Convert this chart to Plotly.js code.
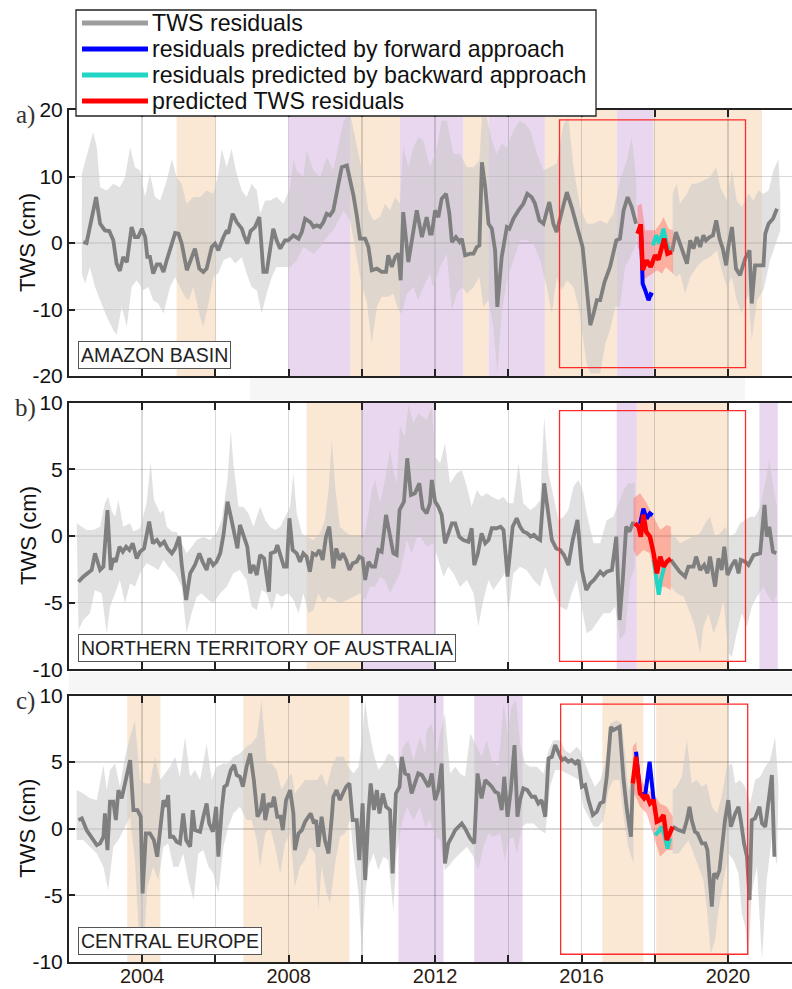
<!DOCTYPE html>
<html><head><meta charset="utf-8">
<script src="https://cdn.plot.ly/plotly-3.0.1.min.js"></script>
<style>html,body{margin:0;padding:0;background:#fff}</style>
</head><body><div id="chart" style="width:792px;height:989px"></div>
<script>
// ---------------- DATA ----------------
const xTickVals = [2004, 2006, 2008, 2010, 2012, 2014, 2016, 2018, 2020];
const xTickText = ['2004', '', '2008', '', '2012', '', '2016', '', '2020'];
const legendLabels = ['TWS residuals', 'residuals predicted by forward approach', 'residuals predicted by backward approach', 'predicted TWS residuals'];
const regionNames = ['AMAZON BASIN', 'NORTHERN TERRITORY OF AUSTRALIA', 'CENTRAL EUROPE'];
const panelLetters = ['a)', 'b)', 'c)'];

// ---- a) Amazon basin ----
const amazonLineT = [2002.39,2002.48,2002.74,2002.85,2002.98,2003.10,2003.21,2003.30,2003.39,2003.48,2003.58,2003.71,2003.80,2003.89,2003.99,2004.08,2004.14,2004.21,2004.30,2004.40,2004.49,2004.58,2004.67,2004.76,2004.90,2004.99,2005.08,2005.22,2005.35,2005.44,2005.56,2005.67,2005.76,2005.90,2005.99,2006.08,2006.22,2006.31,2006.35,2006.47,2006.58,2006.72,2006.78,2006.87,2006.96,2007.08,2007.20,2007.31,2007.40,2007.51,2007.58,2007.67,2007.77,2007.90,2007.99,2008.13,2008.27,2008.36,2008.45,2008.59,2008.68,2008.77,2008.86,2008.95,2009.04,2009.13,2009.22,2009.36,2009.45,2009.59,2009.66,2009.77,2009.86,2009.95,2010.09,2010.18,2010.27,2010.41,2010.54,2010.66,2010.72,2010.82,2010.91,2011.00,2011.06,2011.13,2011.27,2011.41,2011.50,2011.64,2011.77,2011.86,
2011.91,2012.00,2012.09,2012.18,2012.30,2012.39,2012.46,2012.57,2012.67,2012.73,2012.82,2012.96,2013.05,2013.14,2013.21,2013.28,2013.37,2013.46,2013.55,2013.64,2013.70,2013.82,2013.96,2014.03,2014.14,2014.28,2014.41,2014.52,2014.64,2014.73,2014.85,2014.96,2015.12,2015.23,2015.32,2015.46,2015.60,2015.73,2015.87,2016.03,2016.14,2016.24,2016.33,2016.42,2016.51,2016.63,2016.78,2016.95,2017.05,2017.15,2017.26,2017.37,2017.49,
2018.47,2018.58,2018.69,2018.79,2018.88,2018.97,2019.06,2019.15,2019.24,2019.33,2019.40,2019.50,2019.59,2019.68,2019.77,2019.86,2019.95,2020.01,2020.11,2020.22,2020.33,2020.47,2020.59,2020.65,2020.74,2020.88,2020.97,2021.02,2021.11,2021.23,2021.34];
const amazonLine = [0.15,0,6.9,2.9,1.9,1.8,0.4,-3.1,-4.2,-2.1,-2.9,2.4,0.9,0.9,2.15,0.9,-2.1,-2.1,-4.6,-3.2,-3.2,-4.35,-2.6,-0.85,1.5,1.4,-0.1,-4.1,-2.35,-0.85,-3.85,-4.35,-3.85,-0.6,-0.1,-1.1,0.9,1.9,1.4,4.4,3.15,2.15,1.15,-0.1,1.8,2.4,3.9,-4.35,-4.35,-0.6,2.15,0.4,-0.85,0.4,0.4,1.15,0.65,1.65,3.65,3.15,2.4,2.65,2.4,3.15,4.4,4.15,4.9,8.9,11.4,11.65,9.9,7.15,4.15,0.65,0.65,-0.6,-4.1,-3.85,-4.35,-4.35,-1.85,-3.6,-2.1,-1.6,-5.6,4.65,-2.85,2.4,4.9,0.9,3.9,1.4,
1.4,4.9,3.9,6.65,7.4,4.4,0.15,0.9,0.15,0.65,-1.85,-1.6,-1.6,-0.6,-0.35,12.15,8.4,2.9,2.15,-1.1,-9.6,-2.1,2.4,2.15,3.65,4.9,5.9,7.4,6.9,5.9,3.4,2.9,6.15,2.9,1.65,4.65,7.65,5.4,2.65,-0.6,-6.6,-12.35,-10.6,-8.6,-8.6,-5.85,-3.6,0.4,0.65,4.9,6.9,5.4,2.9,
-1.35,1.65,-0.1,-1.85,-3.1,0.4,-0.85,0.9,-0.6,1.15,0.4,0.9,1.15,3.4,0.65,-0.85,-3.35,-0.6,2.4,-3.85,-4.85,-2.35,-1.1,-9.1,-3.35,-3.35,-3.35,1.4,2.9,3.65,5.15];
const amazonUpT = [2002.35,2002.66,2002.76,2002.85,2003.03,2003.21,2003.39,2003.53,2003.67,2003.80,2003.94,2004.08,2004.21,2004.35,2004.49,2004.67,2004.81,2004.94,2005.08,2005.21,2005.40,2005.58,2005.76,2005.94,2006.08,2006.17,2006.31,2006.44,2006.58,2006.72,2006.85,2006.99,2007.13,2007.22,2007.36,2007.49,2007.67,2007.86,2008.04,2008.13,2008.22,2008.40,2008.49,2008.68,2008.86,2009.04,2009.22,2009.36,2009.50,2009.68,2009.86,2010.04,2010.18,2010.32,2010.50,2010.63,2010.77,2010.91,2011.04,2011.13,2011.27,2011.41,2011.54,2011.68,2011.86,
2012.05,2012.18,2012.32,2012.50,2012.68,2012.87,2013.05,2013.21,2013.28,2013.41,2013.55,2013.68,2013.82,2013.96,2014.14,2014.32,2014.46,2014.60,2014.78,2014.96,2015.14,2015.32,2015.51,2015.64,2015.78,2015.96,2016.14,2016.33,2016.51,2016.69,2016.87,2017.05,2017.24,2017.37,2017.49,
2018.49,2018.60,2018.69,2018.88,2019.01,2019.15,2019.33,2019.51,2019.68,2019.79,2019.97,2020.11,2020.24,2020.38,2020.56,2020.70,2020.83,2020.97,2021.11,2021.24,2021.38,2021.43];
const amazonUp = [10.4,16.65,14.4,8.4,7.9,8.9,8.4,9.9,14.4,11.4,10.9,6.9,10.4,6.9,6.4,9.4,12.65,9.9,8.9,5.9,6.9,6.9,7.9,7.4,10.4,14.15,11.4,14.15,10.4,7.9,6.9,8.9,7.9,4.4,6.4,6.4,6.9,5.9,8.4,12.4,10.9,9.9,13.9,10.9,9.9,12.9,10.9,14.9,18.4,19.4,14.9,9.9,4.9,3.4,3.9,5.9,4.9,6.9,5.9,14.4,11.4,14.4,15.9,15.4,11.4,
14.4,18.4,18.4,13.4,13.4,11.4,11.4,12.4,18.9,18.9,15.4,13.4,14.9,14.4,16.9,18.4,17.9,16.9,13.4,10.9,11.4,11.9,17.9,18.9,11.4,5.4,2.9,2.9,3.4,2.9,4.4,9.4,12.4,15.9,9.9,
7.4,8.9,5.9,7.4,8.9,8.9,9.4,9.9,11.4,8.4,6.4,10.9,6.4,5.4,7.4,6.4,7.9,7.4,7.9,10.9,12.65,6.9];
const amazonLoT = [2002.35,2002.44,2002.57,2002.71,2002.85,2003.03,2003.21,2003.30,2003.44,2003.58,2003.71,2003.85,2004.03,2004.17,2004.30,2004.44,2004.58,2004.76,2004.90,2005.03,2005.17,2005.26,2005.40,2005.58,2005.67,2005.81,2005.94,2006.08,2006.22,2006.40,2006.54,2006.72,2006.85,2006.99,2007.13,2007.26,2007.40,2007.54,2007.67,2007.86,2008.04,2008.22,2008.40,2008.54,2008.68,2008.86,2009.04,2009.22,2009.36,2009.50,2009.68,2009.86,2010.00,2010.13,2010.27,2010.41,2010.54,2010.72,2010.86,2011.00,2011.09,2011.23,2011.41,2011.54,2011.68,2011.86,
2011.95,2012.14,2012.32,2012.46,2012.59,2012.73,2012.87,2013.05,2013.21,2013.32,2013.46,2013.59,2013.70,2013.82,2013.96,2014.14,2014.32,2014.50,2014.69,2014.87,2015.05,2015.19,2015.32,2015.46,2015.60,2015.78,2015.92,2016.05,2016.14,2016.24,2016.51,2016.65,2016.78,2016.92,2017.05,2017.19,2017.33,2017.49,
2018.49,2018.60,2018.69,2018.83,2018.97,2019.15,2019.33,2019.51,2019.70,2019.83,2019.97,2020.11,2020.24,2020.38,2020.56,2020.65,2020.79,2020.97,2021.15,2021.34,2021.43];
const amazonLo = [-4.6,-6.1,-3.6,-6.6,-8.6,-11.1,-13.1,-13.85,-9.6,-12.6,-6.6,-5.6,-7.1,-6.6,-8.6,-9.1,-10.6,-6.6,-5.1,-6.6,-8.1,-8.6,-6.6,-11.1,-12.6,-9.1,-5.1,-4.6,-2.6,-2.1,-3.1,-2.1,-4.6,-6.6,-7.1,-10.6,-7.6,-5.1,-3.6,-3.6,-3.6,-2.6,-0.6,-1.1,-1.6,-0.6,0.9,1.9,3.4,4.9,3.4,-2.1,-6.6,-8.6,-15.1,-9.6,-8.1,-8.1,-7.6,-10.1,-10.6,-7.6,-6.6,-8.6,-6.6,-4.6,
-6.6,-3.6,-1.6,-10.1,-7.6,-6.6,-7.6,-6.6,-5.1,-9.6,-8.6,-12.6,-19.6,-10.6,-5.6,-2.6,0.4,0.4,-0.1,-2.6,-6.6,-10.6,-5.1,-7.1,-5.6,-6.6,-9.6,-14.6,-18.1,-19.6,-19.6,-15.1,-13.1,-9.6,-9.6,-3.6,-2.1,-0.1,
-4.6,-5.1,-4.6,-7.6,-5.1,-3.6,-2.6,-2.1,-1.1,-4.1,-6.6,-5.1,-8.6,-10.6,-7.6,-14.6,-8.6,-7.1,-2.6,0.4,1.9];
const amazonPredT = [2017.53,2017.62,2017.67,2017.78,2017.89,2018.01,2018.10,2018.19,2018.26,2018.35,2018.47];
const amazonPred = [1.4,2.8,-4.1,-2.6,-3.6,-1.85,-2.5,-0.85,0.65,-1.6,-1.35];
const amazonFwdT = [2017.62,2017.67,2017.74,2017.83,2017.89,2017.95];
const amazonFwd = [2.8,-6.1,-7.1,-8.6,-7.7,-7.85];
const amazonBwdT = [2017.95,2018.04,2018.13,2018.24,2018.33,2018.40];
const amazonBwd = [-0.35,1.15,-0.1,2.15,-0.1,-1.1];
const amazonPredUpT = [2017.53,2017.64,2017.74,2017.87,2018.01,2018.15,2018.24,2018.38,2018.50];
const amazonPredUp = [5.65,5.9,1.9,1.9,1.9,2.9,3.9,2.15,1.9];
const amazonPredLoT = [2017.53,2017.64,2017.67,2017.80,2017.94,2018.06,2018.20,2018.30,2018.40,2018.50];
const amazonPredLo = [-0.6,-1.6,-5.6,-5.1,-4.6,-4.1,-4.6,-3.6,-4.1,-4.6];
const amazonElNino = [[2004.94,2006.0],[2009.68,2011.04],[2012.77,2013.46],[2015.0,2016.97],[2017.96,2020.93]];
const amazonLaNina = [[2008.0,2009.68],[2011.04,2012.77],[2013.46,2015.0],[2016.97,2017.96]];
const amazonWindow = [2015.40, 2020.48, -18.75, 18.5];

// ---- b) Northern Territory of Australia ----
const ntLineT = [2002.26,2002.39,2002.62,2002.71,2002.85,2002.94,2003.05,2003.14,2003.21,2003.28,2003.38,2003.47,2003.56,2003.65,2003.74,2003.85,2003.94,2004.05,2004.19,2004.29,2004.40,2004.49,2004.60,2004.69,2004.81,2004.90,2005.01,2005.08,2005.20,2005.31,2005.44,2005.56,2005.65,2005.76,2005.83,2005.94,2006.03,2006.13,2006.22,2006.33,2006.44,2006.54,2006.60,2006.67,2006.78,2006.87,2006.95,2007.04,2007.13,2007.22,2007.33,2007.46,2007.51,2007.63,2007.69,2007.78,2007.87,2007.95,2008.02,2008.11,2008.22,2008.31,2008.40,2008.49,2008.58,2008.66,2008.75,2008.84,2008.93,2009.02,2009.11,2009.22,2009.30,2009.39,2009.48,2009.57,2009.66,2009.75,2009.86,2009.93,2010.02,2010.09,2010.18,2010.27,2010.36,2010.45,2010.54,2010.66,2010.77,2010.86,2010.95,2011.03,2011.15,2011.24,2011.34,2011.45,2011.57,2011.66,2011.77,2011.86,
2011.91,2012.00,2012.09,2012.18,2012.27,2012.36,2012.46,2012.55,2012.66,2012.77,2012.91,2013.00,2013.07,2013.17,2013.27,2013.37,2013.46,2013.55,2013.68,2013.79,2013.87,2013.98,2014.12,2014.23,2014.32,2014.41,2014.52,2014.61,2014.70,2014.80,2014.87,2014.98,2015.10,2015.19,2015.31,2015.42,2015.52,2015.64,2015.76,2015.89,2016.01,2016.13,2016.24,2016.34,2016.51,2016.60,2016.69,2016.83,2016.95,2017.04,2017.13,2017.22,2017.31,2017.40,2017.46,
2018.44,2018.56,2018.68,2018.83,2018.92,2019.06,2019.13,2019.24,2019.35,2019.44,2019.51,2019.65,2019.74,2019.83,2019.90,2019.99,2020.11,2020.20,2020.29,2020.35,2020.47,2020.56,2020.70,2020.88,2021.00,2021.06,2021.13,2021.23,2021.32];
const ntLine = [-3.43,-3.05,-2.55,-1.3,-2.55,-2.3,1.95,-2.55,-1.68,-1.93,-0.8,-1.18,-0.8,-1.05,-0.55,-1.68,-1.18,-0.93,1.08,-0.55,-0.3,-0.68,-0.43,-0.93,-1.3,-0.93,-0.05,-2.18,-4.8,-2.8,-2.18,-1.3,-1.93,-2.55,-1.68,-2.18,-1.93,-1.3,0.08,2.58,1.2,-0.3,-0.93,0.83,-0.05,-0.8,-2.8,-2.18,-2.93,-1.43,-1.68,-4.18,-1.3,-1.18,-0.68,-1.55,-2.3,-2.3,1.33,-1.05,-1.3,-1.93,-1.3,-1.55,-2.68,-1.3,-1.43,-1.05,-1.8,-0.05,0.7,-2.43,-0.93,-1.8,-1.3,-1.8,-2.55,-2.05,-1.93,-1.55,-1.68,-3.3,-1.93,-2.3,-2.3,-1.05,-1.18,1.58,-0.05,-1.3,-1.43,1.95,2.58,5.83,3.08,3.2,3.95,2.08,1.7,2.45,
4.2,2.58,2.2,1.58,-0.55,0.2,0.95,0.95,-0.05,-0.3,-0.43,0.58,-2.18,-1.3,0.2,-0.55,-0.3,0.58,0.58,0.7,0.45,-3.05,0.7,1.33,0.7,0.33,0.2,-0.05,0.08,-0.18,-0.3,3.95,1.2,-0.3,-0.93,-1.05,-1.43,-2.18,-0.3,1.2,-2.55,-4.05,-3.55,-3.3,-2.68,-2.93,-2.68,-2.55,-0.05,-6.3,-3.18,0.7,0.33,0.95,0.95,
-1.8,-2.3,-2.68,-3.05,-2.3,-2.3,-1.55,-2.55,-2.18,-2.8,-1.55,-3.8,-1.68,-2.55,-0.8,-2.93,-2.18,-1.8,-2.8,-1.8,-1.93,-2.18,-1.43,-1.3,2.33,-0.05,0.7,-1.18,-1.3];
const ntUpT = [2002.21,2002.48,2002.66,2002.85,2002.98,2003.07,2003.17,2003.26,2003.35,2003.48,2003.67,2003.76,2003.94,2004.12,2004.23,2004.32,2004.49,2004.58,2004.67,2004.81,2004.94,2005.08,2005.21,2005.35,2005.49,2005.67,2005.85,2006.03,2006.17,2006.33,2006.42,2006.49,2006.63,2006.76,2006.90,2007.04,2007.22,2007.36,2007.49,2007.63,2007.77,2007.95,2008.04,2008.13,2008.22,2008.36,2008.49,2008.68,2008.86,2008.99,2009.09,2009.18,2009.27,2009.40,2009.59,2009.77,2009.95,2010.04,2010.18,2010.27,2010.36,2010.50,2010.63,2010.77,2010.86,2010.95,2011.04,2011.18,2011.27,2011.41,2011.54,
2011.77,2011.91,2012.00,2012.14,2012.27,2012.41,2012.59,2012.73,2012.87,2013.00,2013.14,2013.27,2013.41,2013.55,2013.73,2013.87,2014.00,2014.14,2014.28,2014.41,2014.60,2014.73,2014.87,2014.98,2015.10,2015.23,2015.37,2015.51,2015.64,2015.78,2015.92,2016.05,2016.14,2016.33,2016.51,2016.69,2016.87,2017.01,2017.15,2017.28,2017.46,
2018.44,2018.56,2018.69,2018.88,2019.06,2019.24,2019.38,2019.51,2019.65,2019.79,2019.92,2020.06,2020.20,2020.33,2020.47,2020.61,2020.74,2020.88,2021.02,2021.13,2021.24,2021.34];
const ntUp = [0.95,0.45,0.45,0.7,2.45,2.95,1.83,1.45,2.7,0.7,0.95,0.33,0.58,2.45,5.58,2.7,1.7,1.95,0.7,0.33,0.3,-0.5,-1.3,-0.8,-0.3,-0.05,-0.3,0.2,1.2,4.2,7.95,5.45,2.2,2.2,1.7,0.7,2.2,1.2,0.7,0.45,0.7,1.7,2.2,4.7,1.7,0.2,-0.05,-0.3,0.2,1.2,3.45,7.2,3.7,0.7,0.2,-0.05,-0.05,-0.3,1.7,3.45,4.2,2.45,4.2,6.45,4.95,3.95,8.2,7.45,9.83,8.45,9.2,
8.7,9.7,5.95,5.45,6.95,3.95,4.7,4.95,3.7,2.2,3.45,2.95,3.2,2.95,2.7,2.95,2.45,2.45,5.45,2.45,1.95,2.2,2.7,8.95,4.7,2.95,1.2,1.45,1.95,3.7,4.2,3.2,1.7,-0.55,-0.55,1.2,1.45,2.45,3.45,3.95,3.95,
0.2,-0.05,-0.55,-0.3,-0.05,0.2,0.95,1.45,-0.05,0.2,0.7,-0.05,0.2,0.95,1.2,1.45,1.45,2.2,3.95,5.7,3.7,2.2];
const ntLoT = [2002.26,2002.39,2002.57,2002.71,2002.89,2003.03,2003.12,2003.26,2003.39,2003.53,2003.67,2003.80,2003.94,2004.12,2004.30,2004.44,2004.58,2004.71,2004.90,2005.08,2005.21,2005.35,2005.49,2005.62,2005.81,2005.94,2006.13,2006.31,2006.49,2006.67,2006.85,2006.99,2007.13,2007.26,2007.40,2007.54,2007.67,2007.81,2007.99,2008.13,2008.27,2008.40,2008.54,2008.68,2008.81,2008.95,2009.09,2009.27,2009.40,2009.59,2009.77,2009.95,2010.09,2010.22,2010.36,2010.50,2010.63,2010.77,2010.91,2011.04,2011.23,2011.36,2011.54,
2011.77,2011.95,2012.09,2012.23,2012.36,2012.50,2012.68,2012.87,2013.05,2013.18,2013.32,2013.46,2013.59,2013.78,2013.91,2014.00,2014.14,2014.32,2014.50,2014.69,2014.87,2015.01,2015.14,2015.28,2015.42,2015.60,2015.73,2015.87,2016.01,2016.14,2016.28,2016.42,2016.60,2016.78,2016.92,2017.05,2017.19,2017.33,2017.46,
2018.44,2018.60,2018.79,2018.97,2019.10,2019.24,2019.33,2019.47,2019.61,2019.74,2019.88,2020.01,2020.11,2020.24,2020.38,2020.52,2020.65,2020.79,2020.97,2021.11,2021.24,2021.34];
const ntLo = [-7.05,-6.3,-5.8,-4.05,-4.3,-7.3,-5.3,-4.3,-3.3,-5.05,-3.55,-3.8,-2.8,-2.05,-2.3,-2.55,-1.8,-2.3,-2.8,-3.8,-7.3,-5.8,-4.55,-4.3,-4.8,-5.05,-4.3,-3.8,-2.8,-2.55,-3.3,-5.3,-5.55,-4.05,-4.3,-5.55,-4.3,-4.55,-4.3,-4.8,-5.8,-4.3,-5.8,-5.55,-4.3,-5.05,-4.55,-4.8,-5.05,-4.8,-4.55,-4.3,-4.8,-3.8,-3.8,-3.05,-3.3,-4.3,-3.55,-2.8,-0.3,-1.3,0.2,
-0.8,-0.55,-1.8,-3.05,-2.3,-2.8,-3.8,-3.3,-4.3,-6.8,-4.8,-3.3,-4.05,-3.3,-2.8,-5.8,-2.8,-2.3,-2.55,-3.3,-3.8,-2.3,-3.3,-4.55,-5.3,-5.55,-4.3,-3.3,-5.3,-7.3,-7.05,-6.55,-5.8,-5.8,-5.3,-7.8,-7.3,-3.3,-2.3,
-3.8,-4.3,-4.55,-5.8,-6.8,-8.8,-6.8,-5.8,-7.3,-6.3,-4.8,-8.8,-9.05,-7.3,-5.8,-6.8,-5.3,-4.55,-3.8,-4.55,-5.05,-4.3];
const ntPredT = [2017.46,2017.56,2017.62,2017.69,2017.77,2017.87,2017.97,2018.06,2018.15,2018.24,2018.33,2018.44];
const ntPred = [0.95,0.7,-0.05,1.6,0.3,-0.05,-1.3,-2.8,-1.55,-2.3,-1.93,-1.7];
const ntFwdT = [2017.60,2017.69,2017.78,2017.87,2017.94];
const ntFwd = [0.9,2.05,1.3,1.7,1.55];
const ntBwdT = [2017.97,2018.06,2018.11,2018.17,2018.26,2018.33];
const ntBwd = [-1.8,-3.55,-4.4,-3.3,-2.3,-1.93];
const ntPredUpT = [2017.42,2017.60,2017.78,2017.97,2018.15,2018.33,2018.44];
const ntPredUp = [2.83,3.2,2.45,1.45,0.45,0.83,0.7];
const ntPredLoT = [2017.42,2017.51,2017.69,2017.87,2018.01,2018.15,2018.28,2018.44];
const ntPredLo = [-1.05,-1.55,-1.05,-1.3,-3.3,-3.8,-3.8,-4.05];
const ntElNino = [[2008.49,2010.0],[2017.51,2020.01]];
const ntLaNina = [[2010.0,2012.0],[2016.96,2017.51],[2020.86,2021.36]];
const ntWindow = [2015.40, 2020.48, -9.4, 9.4];

// ---- c) Central Europe ----
const ceLineT = [2002.26,2002.35,2002.48,2002.66,2002.76,2002.85,2002.94,2002.98,2003.05,2003.12,2003.21,2003.28,2003.35,2003.44,2003.53,2003.67,2003.76,2003.87,2003.96,2004.01,2004.10,2004.21,2004.32,2004.41,2004.49,2004.58,2004.65,2004.71,2004.76,2004.85,2004.94,2005.03,2005.12,2005.20,2005.31,2005.38,2005.44,2005.58,2005.67,2005.76,2005.83,2005.93,2006.02,2006.08,2006.17,2006.24,2006.31,2006.42,2006.51,2006.58,2006.67,2006.75,2006.85,2006.95,2007.05,2007.15,2007.24,2007.31,2007.36,2007.45,2007.54,2007.60,2007.69,2007.78,2007.84,2007.93,2008.04,2008.13,2008.17,2008.27,2008.36,2008.45,2008.54,2008.60,2008.69,2008.75,2008.81,2008.90,2008.99,2009.09,2009.18,2009.22,2009.31,2009.40,2009.48,2009.57,2009.66,2009.75,2009.86,2009.93,2010.02,2010.09,2010.18,2010.24,2010.33,2010.41,2010.48,2010.57,2010.66,2010.77,2010.84,2010.93,2011.03,2011.09,2011.18,2011.27,2011.36,2011.45,2011.54,2011.64,2011.73,2011.82,
2011.91,2012.00,2012.09,2012.18,2012.27,2012.36,2012.46,2012.55,2012.64,2012.73,2012.82,2012.96,2013.07,2013.16,2013.27,2013.37,2013.46,2013.55,2013.64,2013.73,2013.82,2013.89,2013.98,2014.07,2014.17,2014.25,2014.32,2014.41,2014.52,2014.64,2014.73,2014.82,2014.91,2015.01,2015.10,2015.19,2015.28,2015.37,2015.46,2015.55,2015.64,2015.73,2015.83,2015.92,2016.01,2016.10,2016.19,2016.31,2016.42,2016.51,2016.60,2016.69,2016.80,2016.87,2016.96,2017.04,2017.15,2017.24,2017.35,2017.40,
2018.49,2018.65,2018.79,2018.88,2018.95,2019.01,2019.10,2019.17,2019.29,2019.38,2019.44,2019.51,2019.56,2019.62,2019.70,2019.77,2019.83,2019.92,2020.01,2020.08,2020.20,2020.29,2020.35,2020.44,2020.52,2020.59,2020.65,2020.74,2020.86,2020.93,2021.02,2021.11,2021.20,2021.27];
const ceLine = [0.65,0.78,-0.1,-0.85,-1.23,-1.1,-0.6,1.15,-1.6,2.03,2.03,0.65,2.9,2.28,3.4,5.15,1.4,1.4,0.9,-4.85,-0.35,-0.35,-0.85,-2.1,-0.1,2.15,1.65,2.53,-0.6,-0.6,-0.98,-1.1,1.15,-0.85,-1.35,1.4,-0.1,-0.23,0.9,1.9,0.4,-0.23,1.65,-2.1,1.4,3.15,3.28,4.4,4.78,4.03,3.9,3.15,4.65,5.65,3.65,0.9,1.4,2.65,0.65,1.9,1.65,2.4,0.9,0.9,-0.1,2.15,2.9,1.15,-1.6,-0.35,-0.1,0.53,0.9,1.15,0.4,0.65,-1.35,0.9,-0.85,-1.85,0.9,2.4,2.9,2.15,2.65,3.15,3.4,0.65,0.65,-2.35,1.9,-3.85,1.15,3.4,1.4,2.9,1.15,2.65,1.65,1.4,-3.35,2.65,3.15,5.4,4.15,4.03,2.65,3.4,4.15,4.03,3.53,3.15,
4.15,2.15,2.9,4.9,-2.6,-1.1,-0.6,-0.1,0.15,0.4,0.03,-0.73,-1.1,4.15,2.28,3.65,3.4,3.15,2.78,2.65,1.4,3.9,0.9,2.9,6.28,0.9,2.15,3.03,2.9,2.4,2.4,1.9,2.15,0.9,5.28,5.4,6.28,5.65,5.15,5.28,5.03,5.15,4.9,5.15,3.15,3.28,2.15,1.03,1.28,1.9,2.03,3.9,7.65,7.4,7.53,7.65,3.65,1.4,-0.6,3.4,
0.15,-0.1,-0.23,0.65,1.65,0.65,-0.23,-0.35,-1.1,-1.1,-1.6,-3.85,-5.85,-3.35,-3.6,-3.1,-1.35,0.65,2.15,0.15,1.15,1.65,0.65,-1.1,-2.1,-5.35,0.65,0.78,1.65,0.4,0.15,1.9,4.03,-2.1];
const ceUpT = [2002.21,2002.39,2002.57,2002.76,2002.94,2003.03,2003.12,2003.26,2003.39,2003.53,2003.67,2003.80,2003.94,2004.08,2004.21,2004.35,2004.49,2004.62,2004.76,2004.90,2005.03,2005.17,2005.31,2005.44,2005.58,2005.76,2005.90,2006.03,2006.22,2006.35,2006.49,2006.67,2006.85,2006.99,2007.13,2007.26,2007.40,2007.54,2007.67,2007.81,2007.95,2008.08,2008.17,2008.31,2008.45,2008.63,2008.77,2008.90,2009.04,2009.18,2009.31,2009.50,2009.63,2009.77,2009.91,2010.00,2010.09,2010.18,2010.32,2010.45,2010.59,2010.72,2010.86,2011.00,2011.13,2011.27,2011.41,2011.59,2011.73,
2011.77,2011.91,2012.05,2012.14,2012.27,2012.41,2012.55,2012.68,2012.82,2012.96,2013.14,2013.27,2013.41,2013.55,2013.73,2013.87,2013.98,2014.09,2014.21,2014.32,2014.46,2014.60,2014.78,2014.96,2015.10,2015.23,2015.42,2015.55,2015.69,2015.87,2015.96,2016.10,2016.24,2016.37,2016.51,2016.65,2016.78,2016.96,2017.10,2017.19,2017.28,2017.37,2017.42,
2018.49,2018.60,2018.74,2018.88,2019.01,2019.15,2019.29,2019.42,2019.56,2019.70,2019.83,2019.97,2020.11,2020.20,2020.33,2020.47,2020.61,2020.74,2020.88,2021.02,2021.15,2021.29,2021.38];
const ceUp = [2.9,2.65,2.28,2.15,4.78,2.9,4.4,4.9,3.15,5.4,6.9,8.15,3.65,3.4,3.4,5.4,3.65,4.15,4.65,5.4,3.9,6.9,3.9,4.4,3.65,6.4,3.65,4.65,4.9,4.9,5.4,5.65,6.15,6.4,6.9,9.65,4.9,4.9,4.4,2.9,3.65,4.15,2.65,3.15,3.65,3.65,3.65,4.15,3.15,4.65,5.4,5.4,4.65,4.15,4.65,6.65,9.65,7.65,5.65,4.4,4.9,5.65,5.4,4.4,6.15,6.65,5.15,6.9,5.65,
7.4,7.9,5.65,7.15,8.65,4.15,4.65,4.15,3.9,7.15,6.15,5.4,6.65,5.15,4.65,9.4,7.15,9.15,9.65,6.4,4.9,4.65,4.65,4.15,5.9,6.65,6.65,5.9,5.65,6.15,5.9,4.9,3.9,3.15,3.65,4.9,7.9,8.15,7.9,5.65,2.9,3.65,4.4,
2.9,3.15,3.9,6.65,3.4,3.65,3.15,3.4,1.65,1.15,2.4,4.65,4.9,3.4,3.65,3.15,1.9,3.65,3.9,4.65,5.15,6.9,3.15];
const ceLoT = [2002.21,2002.39,2002.57,2002.76,2002.94,2003.07,2003.21,2003.35,2003.48,2003.67,2003.80,2003.94,2004.03,2004.14,2004.30,2004.44,2004.58,2004.71,2004.85,2004.99,2005.12,2005.26,2005.40,2005.53,2005.67,2005.81,2005.94,2006.08,2006.22,2006.35,2006.49,2006.67,2006.85,2006.99,2007.13,2007.22,2007.36,2007.49,2007.63,2007.77,2007.90,2008.04,2008.17,2008.31,2008.45,2008.58,2008.72,2008.81,2008.90,2009.04,2009.13,2009.27,2009.40,2009.54,2009.68,2009.77,2009.91,2010.00,2010.09,2010.18,2010.32,2010.45,2010.59,2010.72,2010.86,2010.95,2011.09,2011.23,2011.41,2011.59,2011.73,
2011.86,2012.00,2012.14,2012.27,2012.36,2012.50,2012.68,2012.87,2013.05,2013.18,2013.32,2013.46,2013.59,2013.78,2013.91,2014.00,2014.14,2014.23,2014.37,2014.50,2014.69,2014.87,2015.01,2015.14,2015.28,2015.42,2015.60,2015.78,2015.92,2016.05,2016.19,2016.33,2016.46,2016.60,2016.74,2016.87,2017.04,2017.16,2017.28,2017.42,
2018.49,2018.65,2018.79,2018.92,2019.06,2019.20,2019.33,2019.44,2019.53,2019.65,2019.74,2019.88,2020.01,2020.15,2020.29,2020.38,2020.47,2020.56,2020.65,2020.79,2020.93,2021.06,2021.20,2021.34];
const ceLo = [-0.85,-0.85,-1.35,-1.85,-2.85,-4.6,-1.35,-0.85,-0.1,0.9,-2.35,-9.35,-9.35,-4.35,-2.85,-3.85,-1.35,-1.1,-2.85,-2.85,-1.85,-3.85,-5.35,-1.85,-1.6,-2.85,-3.35,-4.85,-1.35,0.15,1.15,1.65,0.65,0.65,-0.85,-2.85,-0.35,0.15,-1.35,-3.35,-1.1,-0.35,-4.35,-2.85,-2.35,-1.35,-1.85,-6.1,-2.85,-4.85,-5.6,-2.6,-0.6,-0.35,0.65,-1.85,-4.85,-9.35,-5.1,-2.85,-1.85,-3.1,-2.1,-2.35,-6.1,-1.85,0.4,1.65,0.65,1.65,0.15,
0.65,-0.6,-0.85,-3.1,-2.85,-2.35,-1.85,-1.35,-2.1,-3.1,-1.35,-0.35,-0.6,-0.35,-2.35,-0.85,-0.6,-1.85,0.15,0.4,0.4,-0.1,-0.35,3.15,4.4,4.4,4.15,3.9,3.65,1.65,0.9,0.15,0.15,0.65,2.9,3.65,3.65,0.65,-1.35,-2.6,
-1.85,-1.85,-1.35,-0.85,-1.85,-2.85,-3.85,-6.35,-9.35,-8.35,-6.1,-3.85,-1.85,-2.35,-3.35,-6.35,-7.35,-9.85,-4.85,-2.85,-9.85,-3.85,-0.6,-2.8];
const cePredT = [2017.40,2017.49,2017.60,2017.71,2017.78,2017.87,2017.97,2018.06,2018.15,2018.24,2018.33,2018.42,2018.49];
const cePred = [3.4,5.4,2.65,2.28,2.53,1.9,2.15,0.53,0.65,1.03,-0.85,-0.23,0.15];
const ceFwdT = [2017.49,2017.60,2017.74,2017.86,2017.97];
const ceFwd = [5.78,2.65,2.53,5.03,2.15];
const ceBwdT = [2018.01,2018.10,2018.19,2018.28,2018.35,2018.42];
const ceBwd = [-0.48,-0.23,0.15,-0.6,-1.48,-0.73];
const cePredUpT = [2017.40,2017.49,2017.60,2017.78,2017.97,2018.15,2018.33,2018.49];
const cePredUp = [6.15,6.5,3.9,2.9,2.65,1.9,1.65,0.9];
const cePredLoT = [2017.40,2017.60,2017.78,2017.97,2018.15,2018.33,2018.49];
const cePredLo = [2.9,1.65,1.15,-0.6,-2.1,-1.6,-1.6];
const ceElNino = [[2003.59,2004.50],[2006.76,2009.66],[2016.57,2017.69],[2018.04,2020.01]];
const ceLaNina = [[2011.0,2012.23],[2013.07,2014.39]];
const ceWindow = [2015.43, 2020.54, -9.42, 9.35];

// ---------------- BUILD ----------------
const W = 792, H = 989;
const px = x => x / W, py = y => 1 - y / H;
const FONT = 'Liberation Sans, Arial, sans-serif';
const C = {gray:'#7f7f7f', legendGray:'#9d9d9d', blue:'#0000ff', cyan:'#22d6c6', red:'#ff0000',
  band:'rgba(200,200,200,0.55)', pink:'rgba(255,105,95,0.45)', orange:'#fae7d4', purple:'#e9d6ef', grid:'rgba(0,0,0,0.15)', axis:'#222'};

function splitSegs(t, v) {
  const segs = []; let cur = {t: [], v: []};
  for (let i = 0; i < t.length; i++) {
    if (i > 0 && t[i] - t[i-1] > 0.5) { segs.push(cur); cur = {t: [], v: []}; }
    cur.t.push(t[i]); cur.v.push(v[i]);
  }
  segs.push(cur); return segs;
}
function withGaps(t, v) {
  const x = [], y = [];
  for (let i = 0; i < t.length; i++) {
    if (i > 0 && t[i] - t[i-1] > 0.5) { x.push(null); y.push(null); }
    x.push(t[i]); y.push(v[i]);
  }
  return {x, y};
}
function poly(upT, up, loT, lo, xa, ya, color) {
  const su = splitSegs(upT, up), sl = splitSegs(loT, lo), out = [];
  for (let k = 0; k < Math.min(su.length, sl.length); k++) {
    out.push({type:'scatter', mode:'lines', x: su[k].t.concat(sl[k].t.slice().reverse()),
      y: su[k].v.concat(sl[k].v.slice().reverse()), fill:'toself', fillcolor: color,
      line:{width:0, color:'rgba(0,0,0,0)'}, xaxis: xa, yaxis: ya, hoverinfo:'skip', showlegend:false});
  }
  return out;
}
function line(t, v, xa, ya, color, width) {
  const g = withGaps(t, v);
  return {type:'scatter', mode:'lines', x: g.x, y: g.y, connectgaps:false, line:{color: color, width: width},
    xaxis: xa, yaxis: ya, hoverinfo:'skip', showlegend:false};
}

const panels = [
  {xa:'x', ya:'y', lineT:amazonLineT, line:amazonLine, upT:amazonUpT, up:amazonUp, loT:amazonLoT, lo:amazonLo,
   predT:amazonPredT, pred:amazonPred, fwdT:amazonFwdT, fwd:amazonFwd, bwdT:amazonBwdT, bwd:amazonBwd,
   pUpT:amazonPredUpT, pUp:amazonPredUp, pLoT:amazonPredLoT, pLo:amazonPredLo, el:amazonElNino, la:amazonLaNina, win:amazonWindow,
   range:[-20,20], ticks:[-20,-10,0,10,20], top:110, bottom:376},
  {xa:'x2', ya:'y2', lineT:ntLineT, line:ntLine, upT:ntUpT, up:ntUp, loT:ntLoT, lo:ntLo,
   predT:ntPredT, pred:ntPred, fwdT:ntFwdT, fwd:ntFwd, bwdT:ntBwdT, bwd:ntBwd,
   pUpT:ntPredUpT, pUp:ntPredUp, pLoT:ntPredLoT, pLo:ntPredLo, el:ntElNino, la:ntLaNina, win:ntWindow,
   range:[-10,10], ticks:[-10,-5,0,5,10], top:402.7, bottom:669.3},
  {xa:'x3', ya:'y3', lineT:ceLineT, line:ceLine, upT:ceUpT, up:ceUp, loT:ceLoT, lo:ceLo,
   predT:cePredT, pred:cePred, fwdT:ceFwdT, fwd:ceFwd, bwdT:ceBwdT, bwd:ceBwd,
   pUpT:cePredUpT, pUp:cePredUp, pLoT:cePredLoT, pLo:cePredLo, el:ceElNino, la:ceLaNina, win:ceWindow,
   range:[-10,10], ticks:[-10,-5,0,5,10], top:695.5, bottom:962}
];

const traces = [], shapes = [], annotations = [];
const layout = {width: W, height: H, margin:{l:0, r:0, t:0, b:0, pad:0}, showlegend:false,
  paper_bgcolor:'#ffffff', plot_bgcolor:'#ffffff', font:{family: FONT, color:'#111'}};

// faint separator strips between panels
shapes.push({type:'rect', xref:'paper', yref:'paper', x0:px(250), x1:px(745), y0:py(400), y1:py(378), fillcolor:'#f6f6f6', line:{width:0}, layer:'below'});
shapes.push({type:'rect', xref:'paper', yref:'paper', x0:px(69), x1:1, y0:py(693), y1:py(672), fillcolor:'#f6f6f6', line:{width:0}, layer:'below'});

panels.forEach((p, i) => {
  const sfx = i === 0 ? '' : String(i + 1);
  layout['xaxis' + sfx] = {domain:[px(69), 1], range:[2002, 2021.75], anchor: p.ya,
    tickmode:'array', tickvals: xTickVals, ticktext: xTickText, showticklabels: i === 2,
    tickfont:{family: FONT, size: 20, color:'#2b1b12'}, ticklabelstandoff: -5,
    ticks:'inside', ticklen:7, tickwidth:2, tickcolor:C.axis,
    showline:true, linecolor:C.axis, linewidth:2, mirror:'ticks',
    showgrid:true, gridcolor:C.grid, gridwidth:1.5, zeroline:false, fixedrange:true};
  layout['yaxis' + sfx] = {domain:[py(p.bottom), py(p.top)], range:p.range, anchor: p.xa,
    tickmode:'array', tickvals:p.ticks, ticktext:p.ticks.map(v => String(v)),
    tickfont:{family: FONT, size: 21, color:'#111'},
    ticks:'inside', ticklen:6, tickwidth:2, tickcolor:C.axis,
    showline:true, linecolor:C.axis, linewidth:2, mirror:false,
    showgrid:true, gridcolor:C.grid, gridwidth:1.5, zeroline:false, fixedrange:true};

  p.el.forEach(r => shapes.push({type:'rect', xref:p.xa, yref:p.ya + ' domain', x0:r[0], x1:r[1], y0:0, y1:1, fillcolor:C.orange, line:{width:0}, layer:'below'}));
  p.la.forEach(r => shapes.push({type:'rect', xref:p.xa, yref:p.ya + ' domain', x0:r[0], x1:r[1], y0:0, y1:1, fillcolor:C.purple, line:{width:0}, layer:'below'}));
  shapes.push({type:'rect', xref:p.xa, yref:p.ya, x0:p.win[0], x1:p.win[1], y0:p.win[2], y1:p.win[3], line:{color:'#ff2a2a', width:1.3}, fillcolor:'rgba(0,0,0,0)', layer:'above'});

  traces.push(...poly(p.upT, p.up, p.loT, p.lo, p.xa, p.ya, C.band));
  traces.push(line(p.lineT, p.line, p.xa, p.ya, C.gray, 3.8));
  traces.push(...poly(p.pUpT, p.pUp, p.pLoT, p.pLo, p.xa, p.ya, C.pink));
  traces.push(line(p.fwdT, p.fwd, p.xa, p.ya, C.blue, 4));
  traces.push(line(p.bwdT, p.bwd, p.xa, p.ya, C.cyan, 4));
  traces.push(line(p.predT, p.pred, p.xa, p.ya, C.red, 4.5));

  // panel letter, y title, region label
  annotations.push({xref:'paper', yref:'paper', x:px(25), y:py(p.top + 5), text:panelLetters[i], showarrow:false,
    xanchor:'center', yanchor:'middle', font:{family:'Liberation Serif, Times New Roman, serif', size:25, color:'#333'}});
  annotations.push({xref:'paper', yref:'paper', x:px(28), y:py((p.top + p.bottom) / 2), text:'TWS (cm)', textangle:-90, showarrow:false,
    xanchor:'center', yanchor:'middle', font:{family: FONT, size:22, color:'#111'}});
  annotations.push({xref:'paper', yref:'paper', x:px(78), y:py(p.bottom - 7), text:regionNames[i], showarrow:false,
    xanchor:'left', yanchor:'bottom', bgcolor:'#ffffff', bordercolor:'#555', borderwidth:1, borderpad:2,
    font:{family: FONT, size:19.5, color:'#222'}});
});

// legend (drawn on top of panel a's frame)
shapes.push({type:'rect', xref:'paper', yref:'paper', x0:px(76), x1:px(596), y0:py(116), y1:py(10), fillcolor:'#ffffff', line:{color:'#222', width:1.3}, layer:'above'});
const legendColors = [C.legendGray, C.blue, C.cyan, C.red];
const rowY = [23, 49, 75, 101];
legendLabels.forEach((lab, k) => {
  shapes.push({type:'line', xref:'paper', yref:'paper', x0:px(82), x1:px(148), y0:py(rowY[k]), y1:py(rowY[k]), line:{color:legendColors[k], width:5}, layer:'above'});
  annotations.push({xref:'paper', yref:'paper', x:px(150), y:py(rowY[k]), text:lab, showarrow:false, xanchor:'left', yanchor:'middle',
    font:{family: FONT, size:23.2, color:'#111'}});
});

layout.shapes = shapes;
layout.annotations = annotations;
Plotly.newPlot('chart', traces, layout, {displayModeBar:false, staticPlot:true});
</script>
</body></html>
